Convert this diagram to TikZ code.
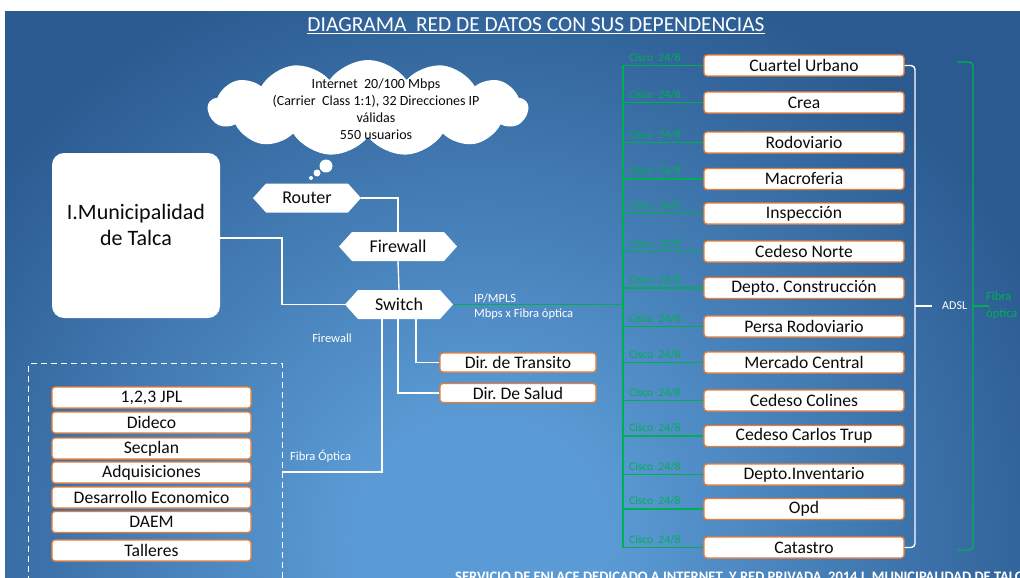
\documentclass[tikz,border=0pt]{standalone}
\usepackage{fontspec}
\setmainfont{Carlito}
\frenchspacing
\usetikzlibrary{shapes.symbols}
\definecolor{bgl}{HTML}{5B9BD5}
\definecolor{bgd}{HTML}{2A5A90}
\definecolor{obord}{HTML}{ED7D31}
\definecolor{gline}{HTML}{00B050}
\definecolor{ink}{HTML}{0A0A0A}
\pgfdeclareradialshading{bgshade}{\pgfpoint{0bp}{0bp}}{color(0bp)=(bgl); color(2.5bp)=(bgl); color(12.5bp)=(bgd); color(50bp)=(bgd)}
\begin{document}
\begin{tikzpicture}[x=1pt,y=-1pt,
 obox/.style={draw=obord, line width=1.3pt, fill=white, rounded corners=3pt, inner sep=0pt, text=ink, font=\fontsize{17.6}{20}\selectfont},
 rbox/.style={obox, minimum width=200pt, minimum height=21pt},
 lbox/.style={obox, minimum width=199pt, minimum height=21pt},
 dbox/.style={obox, minimum width=156pt, minimum height=19pt},
 hexbox/.style={minimum width=#1, minimum height=29pt, inner sep=0pt, text=ink, font=\fontsize{18}{20}\selectfont,
   path picture={\fill[white] (path picture bounding box.west) -- ([xshift=13pt]path picture bounding box.north west) -- ([xshift=-13pt]path picture bounding box.north east) -- (path picture bounding box.east) -- ([xshift=-13pt]path picture bounding box.south east) -- ([xshift=13pt]path picture bounding box.south west) -- cycle;}},
 wline/.style={draw=white, line width=1.4pt},
 gl/.style={draw=gline, line width=1.4pt},
 cisco/.style={text=gline, font=\fontsize{11.5}{13}\selectfont, anchor=west, inner sep=0pt},
 wlabel/.style={text=white, font=\fontsize{12.5}{15}\selectfont, inner sep=0pt}
]
\useasboundingbox (0,0) rectangle (1020,578);
\clip (0,0) rectangle (1020,578);
\shade[shading=bgshade] (480,540) ellipse [x radius=1240pt, y radius=1200pt];
\fill[white] (0,0) rectangle (1020,11);
\fill[white] (0,0) rectangle (5,578);

% title
\node[text=white, font=\fontsize{21.4}{24}\selectfont] (title) at (536,26) {\underline{DIAGRAMA~ RED DE DATOS CON SUS DEPENDENCIAS}};

% cloud
\node[cloud, cloud puffs=13, cloud puff arc=110, cloud ignores aspect, fill=white, minimum width=320pt, minimum height=96pt, inner sep=0pt] (cloud) at (368,108) {};
\node[align=center, text=ink, font=\fontsize{14}{17}\selectfont] (cloudtxt) at (376,109) {Internet~ 20/100 Mbps\\(Carrier~ Class 1:1), 32 Direcciones IP\\válidas\\550 usuarios};
\fill[white] (326,166) circle (6.5pt);
\fill[white] (317,173) circle (3.5pt);
\fill[white] (311,178) circle (2pt);

% municipalidad
\node[fill=white, rounded corners=12pt, minimum width=168pt, minimum height=165pt, inner sep=0pt] (muni) at (136,235.5) {};
\node[text=ink, align=center, font=\fontsize{22}{26}\selectfont] (munitxt) at (136,225) {I.Municipalidad\\de Talca};

% hexagons
\node[hexbox=108pt] (rt) at (307,198) {Router};
\node[hexbox=118pt] (fw) at (398,246.5) {Firewall};
\node[hexbox=108pt] (sw) at (399,304.5) {Switch};

% dir boxes
\node[dbox] (dt) at (518,362.5) {Dir. de Transito};
\node[dbox] (ds) at (518,393) {Dir. De Salud};

% dashed box
\node[draw=white, line width=1.3pt, dash pattern=on 6pt off 4pt, minimum width=254pt, minimum height=240pt, anchor=north west, inner sep=0pt] (dash) at (28,363) {};

% white connectors
\coordinate (mj) at (282,238);
\coordinate (s1) at (382,0);
\coordinate (s2) at (398,0);
\coordinate (s3) at (416,0);
\coordinate (fo) at (282,472);
\draw[wline] (rt.east) -| (fw.north);
\draw[wline] (fw.south) -- (sw.north);
\draw[wline] (muni.east |- mj) -- (mj) |- (sw.west);
\draw[wline] (sw.south -| s1) |- (fo);
\draw[wline] (sw.south -| s2) |- (ds.west);
\draw[wline] (sw.south -| s3) |- (dt.west);

% white labels
\node[wlabel, anchor=west] (ipm) at (474,298) {IP/MPLS};
\node[wlabel, anchor=west] (mbps) at (474,314) {Mbps x Fibra óptica};
\node[wlabel] (fwl) at (332,338) {Firewall};
\node[wlabel, anchor=west] (fol) at (290,456) {Fibra Óptica};

% left list
\foreach \n/\y/\t in {l1/397.5/{1,2,3 JPL}, l2/422.5/Dideco, l3/448.5/Secplan, l4/472.5/Adquisiciones, l5/497.5/Desarrollo Economico, l6/522/DAEM, l7/550.5/Talleres}
  \node[lbox] (\n) at (151.5,\y) {\t};

% right column
\coordinate (bus) at (623,0);
\foreach \n/\y/\t in {r1/65.5/Cuartel Urbano, r2/102.5/Crea, r3/142.5/Rodoviario, r4/179/Macroferia, r5/213.5/Inspección, r6/251.5/Cedeso Norte, r7/288/Depto. Construcción, r8/326.5/Persa Rodoviario, r9/362.5/Mercado Central, r10/400.5/Cedeso Colines, r11/436/Cedeso Carlos Trup, r12/474.5/Depto.Inventario, r13/509/Opd, r14/547.5/Catastro}
{
  \node[rbox] (\n) at (804,\y) {\t};
  \draw[gl] (\n.west -| bus) -- (\n.west);
  \node[cisco] (c\n) at (629,{\y-8}) {Cisco~ 24/8};
}
\draw[gl] (r1.west -| bus) -- (r14.west -| bus);
\draw[gl] (sw.east) -- (sw.east -| bus);

% ADSL bracket
\coordinate (adslm) at (915,306);
\draw[wline, rounded corners=4pt] (r1.east) -| (adslm);
\draw[wline, rounded corners=4pt] (r14.east) -| (adslm);
\draw[wline] (adslm) -- ++(17,0);
\node[wlabel, anchor=west, font=\fontsize{12}{14}\selectfont] (adsl) at (942,306) {ADSL};

% fibra optica brace
\coordinate (fom) at (973,306);
\coordinate (gbt) at (957,62);
\coordinate (gbb) at (957,550);
\draw[gl, rounded corners=4pt] (gbt) -| (fom);
\draw[gl, rounded corners=4pt] (gbb) -| (fom);
\draw[gl] (fom) -- ++(16,0);
\node[text=gline, align=left, anchor=west, inner sep=0pt, font=\fontsize{12.5}{17}\selectfont] (fol2) at (986,306) {Fibra\\óptica};

% footer
\node[text=white, font=\bfseries\fontsize{14.5}{16}\selectfont, anchor=base west, inner sep=0pt] (foot) at (455,581) {SERVICIO DE ENLACE DEDICADO A INTERNET~ Y RED PRIVADA~ 2014 I. MUNICIPALIDAD DE TALCA};
\end{tikzpicture}
\end{document}
